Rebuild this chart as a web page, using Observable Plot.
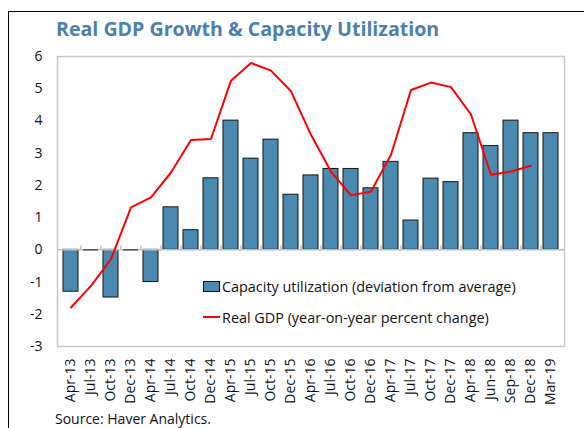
<!DOCTYPE html>
<html>
<head>
<meta charset="utf-8">
<script src="https://cdn.jsdelivr.net/npm/d3@7"></script>
<script src="https://cdn.jsdelivr.net/npm/@observablehq/plot@0.6"></script>
<style>
  html, body { margin: 0; padding: 0; background: #fff; }
  body { width: 584px; height: 428px; overflow: hidden; font-family: "Open Sans", "Noto Sans", sans-serif; }
  #wrap { position: relative; width: 584px; height: 428px; }
  #border { position: absolute; left: 8px; top: 11px; width: 700px; height: 600px; border-left: 1.5px solid #000; border-top: 1.5px solid #000; }
  #title { position: absolute; left: 56px; top: 15px; font-size: 19.6px; font-weight: 700; color: #4a7fb0; white-space: nowrap; }
  #chart { position: absolute; left: 0; top: 44px; }
  #source { position: absolute; left: 55px; top: 409px; font-size: 14px; color: #111; white-space: nowrap; }
  #legend { position: absolute; left: 203px; top: 276px; font-size: 14.4px; color: #111; }
  .li { display: flex; align-items: center; height: 20px; margin-bottom: 11px; white-space: nowrap; }
  .sw { width: 15px; height: 9px; background: #4a8ab0; border: 1px solid #111; margin-right: 2px; }
  .ln { width: 17px; height: 2px; background: #ff0000; margin-right: 2px; }
</style>
</head>
<body>
<div id="wrap">
  <div id="border"></div>
  <div id="title">Real GDP Growth &amp; Capacity Utilization</div>
  <div id="chart"></div>
  <div id="legend"></div>
  <div id="source">Source: Haver Analytics.</div>
</div>
<script>
const labels = ["Apr-13","Jul-13","Oct-13","Dec-13","Apr-14","Jul-14","Oct-14","Dec-14","Apr-15","Jul-15","Oct-15","Dec-15","Apr-16","Jul-16","Oct-16","Dec-16","Apr-17","Jul-17","Oct-17","Dec-17","Apr-18","Jun-18","Sep-18","Dec-18","Mar-19"];
const capacity = [-1.3,0,-1.48,0,-1.0,1.32,0.61,2.22,4.01,2.83,3.42,1.71,2.31,2.51,2.51,1.91,2.73,0.91,2.21,2.10,3.62,3.22,4.01,3.62,3.62];
const realGDP = [-1.79,-1.12,-0.29,1.32,1.63,2.40,3.41,3.44,5.25,5.80,5.56,4.92,3.57,2.43,1.69,1.81,2.95,4.96,5.19,5.05,4.20,2.33,2.43,2.61,null];
const yTicks = [-3,-2,-1,0,1,2,3,4,5,6];
const seriesNames = ["Capacity utilization (deviation from average)", "Real GDP (year-on-year percent change)"];
const source = "Source: Haver Analytics.";

const data = labels.map((l, i) => ({label: l, cap: capacity[i], gdp: realGDP[i]}));

const W = 584, H = 370, mL = 57, mR = 20, mT = 12, mB = 68;
const step = (W - mL - mR) / labels.length;

const chart = Plot.plot({
  width: W, height: H,
  marginLeft: mL, marginRight: mR, marginTop: mT, marginBottom: mB,
  style: {fontFamily: "'Open Sans', 'Noto Sans', sans-serif", fontSize: "14px", color: "#111", background: "transparent"},
  x: {type: "band", domain: labels, padding: 0.26, align: 0.5, label: null},
  y: {domain: [-3, 6], ticks: yTicks, label: null},
  marks: [
    Plot.frame({stroke: "#c8c8c8", strokeWidth: 1.5}),
    Plot.axisY({ticks: yTicks, tickSize: 0, tickPadding: 15, tickFormat: d => String(d), fontSize: 14, fill: "#111", label: null}),
    Plot.axisX({tickRotate: -90, tickSize: 0, tickPadding: 12, fontSize: 14, fill: "#111", label: null}),
    Plot.barY(data, {x: "label", y: "cap", fill: "#4a8ab0", stroke: "#151515", strokeWidth: 1}),
    Plot.ruleY([0], {stroke: "#bdbdbd", strokeWidth: 1.5}),
    Plot.ruleX(labels.slice(1), {x: d => d, y1: 0, y2: 0.12, dx: -step / 2, stroke: "#bdbdbd", strokeWidth: 1.5}),
    Plot.ruleY(data.filter(d => d.cap === 0), {x1: "label", x2: "label", y: 0, dx: 0, stroke: "#333", strokeWidth: 1.2}),
    Plot.lineY(data, {x: "label", y: "gdp", stroke: "#ff0000", strokeWidth: 2})
  ]
});
document.getElementById("chart").appendChild(chart);

const legend = document.getElementById("legend");
legend.innerHTML =
  `<div class="li"><div class="sw"></div><span>${seriesNames[0]}</span></div>` +
  `<div class="li"><div class="ln"></div><span>${seriesNames[1]}</span></div>`;
document.getElementById("source").textContent = source;
</script>
</body>
</html>
